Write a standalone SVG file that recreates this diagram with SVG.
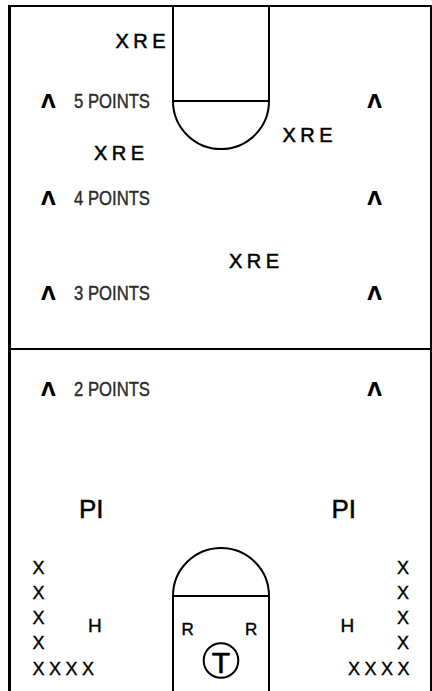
<svg xmlns="http://www.w3.org/2000/svg" width="432" height="691" viewBox="0 0 432 691">
<style>
.line{fill:none;stroke:#000;stroke-width:2}
.xre{font-family:"Liberation Sans",Arial,sans-serif;font-size:20px;letter-spacing:4.5px;fill:#000;stroke:#000;stroke-width:0.5}
.pts{font-family:"Liberation Sans",Arial,sans-serif;font-size:19.5px;fill:#2a2a2a;stroke:#2a2a2a;stroke-width:0.4}
.car{font-family:"DejaVu Sans",sans-serif;font-size:19px;font-weight:bold;fill:#000}
.pl{font-family:"Liberation Sans",Arial,sans-serif;font-size:18px;fill:#000;stroke:#000;stroke-width:0.4}
.big{font-family:"Liberation Sans",Arial,sans-serif;font-size:26px;fill:#000;stroke:#000;stroke-width:0.5}
</style>
<rect width="432" height="691" fill="#fff"/>
<g id="court">
<line class="line" x1="9.5" y1="5" x2="9.5" y2="691" style="stroke-width:3"/>
<line class="line" x1="431" y1="5" x2="431" y2="691"/>
<line class="line" x1="8" y1="6" x2="432" y2="6"/>
<line class="line" x1="8" y1="349" x2="432" y2="349"/>
</g>
<g id="top-lane">
<line class="line" x1="173" y1="6" x2="173" y2="101"/>
<line class="line" x1="269" y1="6" x2="269" y2="101"/>
<line class="line" x1="173" y1="101" x2="269" y2="101"/>
<path class="line" d="M173,101 A48,48 0 0 0 269,101"/>
</g>
<g id="bottom-lane">
<line class="line" x1="173" y1="596" x2="173" y2="691"/>
<line class="line" x1="269" y1="596" x2="269" y2="691"/>
<line class="line" x1="173" y1="596" x2="269" y2="596"/>
<path class="line" d="M173,596 A48,48 0 0 1 269,596"/>
</g>
<g id="xre-1"><text class="xre" x="115.5" y="47.5">XRE</text></g>
<g id="xre-2"><text class="xre" x="282.5" y="142">XRE</text></g>
<g id="xre-3"><text class="xre" x="94" y="160">XRE</text></g>
<g id="xre-4"><text class="xre" x="229" y="267.5">XRE</text></g>
<g id="row-5">
<text class="car" x="48.3" y="107.5" text-anchor="middle">Λ</text>
<text class="pts" x="74" y="108.3" textLength="76" lengthAdjust="spacingAndGlyphs">5 POINTS</text>
<text class="car" x="374.5" y="107.5" text-anchor="middle">Λ</text>
</g>
<g id="row-4">
<text class="car" x="48.3" y="204.5" text-anchor="middle">Λ</text>
<text class="pts" x="74" y="205" textLength="76" lengthAdjust="spacingAndGlyphs">4 POINTS</text>
<text class="car" x="374.5" y="204.5" text-anchor="middle">Λ</text>
</g>
<g id="row-3">
<text class="car" x="48.3" y="299.5" text-anchor="middle">Λ</text>
<text class="pts" x="74" y="300" textLength="76" lengthAdjust="spacingAndGlyphs">3 POINTS</text>
<text class="car" x="374.5" y="299.5" text-anchor="middle">Λ</text>
</g>
<g id="row-2">
<text class="car" x="48.3" y="395.5" text-anchor="middle">Λ</text>
<text class="pts" x="74" y="396" textLength="76" lengthAdjust="spacingAndGlyphs">2 POINTS</text>
<text class="car" x="374.5" y="395.5" text-anchor="middle">Λ</text>
</g>
<g id="pi-left"><text class="big" x="79" y="518">PI</text></g>
<g id="pi-right"><text class="big" x="331.5" y="518">PI</text></g>
<g id="left-line">
<text class="pl" x="32.5" y="574">X</text>
<text class="pl" x="32.5" y="599">X</text>
<text class="pl" x="32.5" y="624">X</text>
<text class="pl" x="32.5" y="649">X</text>
<text class="pl" x="32.5" y="675" style="letter-spacing:4.5px">XXXX</text>
</g>
<g id="h-left"><text class="pl" x="88" y="631.5" style="font-size:19px">H</text></g>
<g id="right-line">
<text class="pl" x="397" y="574">X</text>
<text class="pl" x="397" y="599">X</text>
<text class="pl" x="397" y="624">X</text>
<text class="pl" x="397" y="649">X</text>
<text class="pl" x="348" y="675" style="letter-spacing:4.5px">XXXX</text>
</g>
<g id="h-right"><text class="pl" x="340.5" y="632" style="font-size:19px">H</text></g>
<g id="r-left"><text class="pl" x="181.5" y="635" style="font-size:17px">R</text></g>
<g id="r-right"><text class="pl" x="245" y="635" style="font-size:17px">R</text></g>
<g id="t-node">
<circle class="line" cx="221" cy="660.5" r="17.3"/>
<text x="221" y="672.5" text-anchor="middle" style="font-family:'Liberation Sans',Arial,sans-serif;font-size:30px;fill:#000;stroke:#000;stroke-width:0.6">T</text>
</g>
</svg>
